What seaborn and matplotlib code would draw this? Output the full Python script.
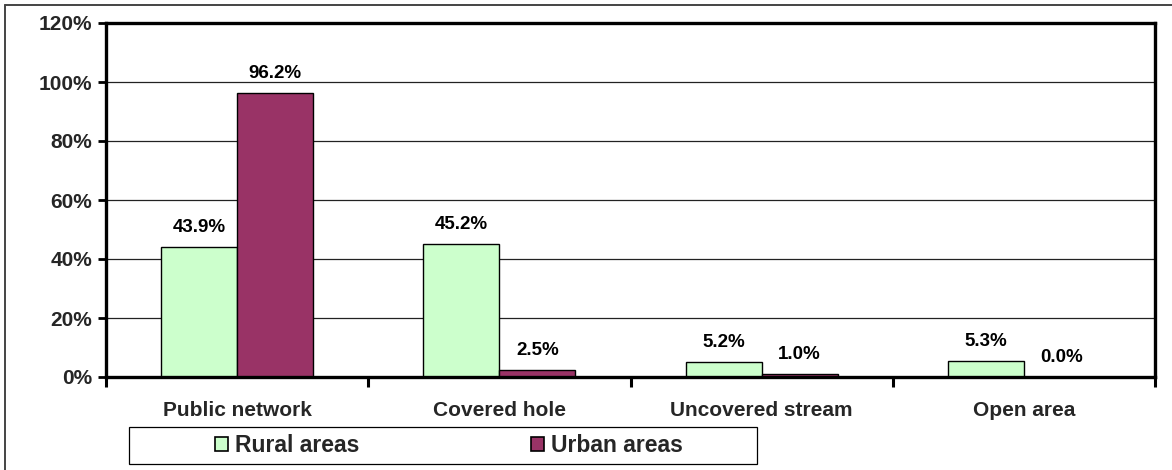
import matplotlib
matplotlib.use("Agg")
import matplotlib.pyplot as plt
from matplotlib.patches import Rectangle
from matplotlib.lines import Line2D
import seaborn as sns
import pandas as pd

# Sanitation outlet shares by area type
categories = ["Public network", "Covered hole", "Uncovered stream", "Open area"]
rural_values = [43.9, 45.2, 5.2, 5.3]
urban_values = [96.2, 2.5, 1.0, 0.0]
series_names = ["Rural areas", "Urban areas"]
series_colors = ["#CCFFCC", "#993366"]
y_ticks = [0, 20, 40, 60, 80, 100, 120]

df = pd.DataFrame({
    "category": categories * 2,
    "area": [series_names[0]] * len(categories) + [series_names[1]] * len(categories),
    "value": rural_values + urban_values,
})

sns.set_theme(style="white")
plt.rcParams["font.family"] = ["Liberation Sans", "DejaVu Sans"]
plt.rcParams["font.weight"] = "bold"

W, H = 1172, 470
fig = plt.figure(figsize=(W / 100, H / 100), dpi=100)
ax = fig.add_axes([106 / W, 1 - 377 / H, (1155 - 106) / W, (377 - 23) / H])

sns.barplot(
    data=df, x="category", y="value", hue="area", order=categories,
    hue_order=series_names, palette=series_colors, width=0.58, gap=0,
    edgecolor="black", linewidth=1.0, saturation=1, ax=ax,
)

for cont in ax.containers:
    ax.bar_label(cont, fmt="%.1f%%", padding=8, fontsize=13.5, fontweight="bold",
                 color="black")

ax.set_xlim(-0.5, len(categories) - 0.5)
ax.set_ylim(0, 120)
ax.set_yticks(y_ticks)
ax.set_yticklabels([f"{t}%" for t in y_ticks], fontsize=15, fontweight="bold")
ax.set_xticks(range(len(categories)))
ax.set_xticklabels(categories, fontsize=15, fontweight="bold")
ax.set_xticks([i - 0.5 for i in range(len(categories) + 1)], minor=True)
ax.tick_params(axis="x", which="major", length=0, pad=17)
ax.tick_params(axis="x", which="minor", length=7, width=2.2, color="black",
               direction="out", bottom=True)
ax.tick_params(axis="y", which="major", length=6, width=2.0, color="black",
               direction="out", left=True, pad=4)
ax.set_xlabel("")
ax.set_ylabel("")

for y in y_ticks[1:-1]:
    ax.axhline(y, color="#222222", linewidth=0.9, zorder=0)

for side in ["left", "right", "top", "bottom"]:
    ax.spines[side].set_visible(True)
    ax.spines[side].set_color("black")
    ax.spines[side].set_linewidth(2.4)

# Legend: two entries in a wide framed box under the axis
handles, labels = ax.get_legend_handles_labels()
if ax.get_legend() is not None:
    ax.get_legend().remove()
lx0, lx1, ly0, ly1 = 129, 757, 427, 464
leg = ax.legend(
    handles, labels, ncol=2, loc="center",
    bbox_to_anchor=(((lx0 + lx1) / 2 + 6) / W, 1 - ((ly0 + ly1) / 2) / H),
    bbox_transform=fig.transFigure, frameon=False,
    prop={"size": 16.5, "weight": "bold"},
    handlelength=0.58, handleheight=0.58, handletextpad=0.3, columnspacing=7.5,
    borderpad=0.2,
)
for h in leg.legend_handles:
    h.set_edgecolor("black")
    h.set_linewidth(1.2)
fig.patches.append(Rectangle((lx0 / W, 1 - ly1 / H), (lx1 - lx0) / W, (ly1 - ly0) / H,
                             transform=fig.transFigure, fill=False,
                             edgecolor="black", linewidth=0.9))

# Chart area border (left and top edges)
fig.lines.append(Line2D([4.5 / W, 4.5 / W], [0, 1 - 4.5 / H], transform=fig.transFigure,
                        color="#444444", linewidth=1.4))
fig.lines.append(Line2D([4.5 / W, 1], [1 - 4.5 / H, 1 - 4.5 / H], transform=fig.transFigure,
                        color="#444444", linewidth=1.4))

fig.savefig("out.png", dpi=100, facecolor="white")
